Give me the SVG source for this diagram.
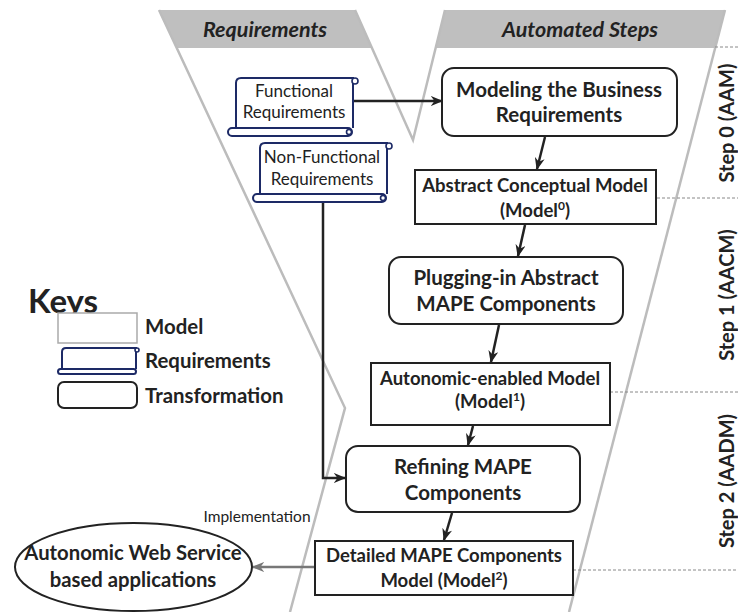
<svg xmlns="http://www.w3.org/2000/svg" width="738" height="612" viewBox="0 0 738 612">
<defs>
<style>
.bg{fill:#ffffff}
.band{fill:#bfbfbf;stroke:none}
.gl{fill:none;stroke:#bcbcbc;stroke-width:2.5;stroke-linejoin:miter}
.hdr{font-family:Lato,"Open Sans",sans-serif;font-weight:bold;font-style:italic;font-size:21.5px;fill:#222;text-anchor:middle}
.t{font-family:Lato,"Open Sans",sans-serif;font-weight:bold;fill:#222;text-anchor:middle}
.r{font-family:Lato,"Open Sans",sans-serif;font-weight:normal;fill:#222;text-anchor:middle}
.k{font-family:Lato,"Open Sans",sans-serif;font-weight:bold;fill:#222}
.box{fill:#fff;stroke:#222;stroke-width:2}
.scroll{fill:#fff;stroke:#1d2a66;stroke-width:2}
.curl{fill:#fff;stroke:#1d2a66;stroke-width:1.6}
.arr{fill:none;stroke:#222;stroke-width:2.5}
.garr{fill:none;stroke:#777;stroke-width:2.5}
.dash{fill:none;stroke:#888;stroke-width:1;stroke-dasharray:3 2}
</style>
<marker id="ah" viewBox="0 0 10 8" refX="9" refY="4" markerWidth="5" markerHeight="4" orient="auto" markerUnits="strokeWidth">
<path d="M0,0 L10,4 L0,8 L3,4 Z" fill="#222"/>
</marker>
<marker id="gah" viewBox="0 0 10 8" refX="9" refY="4" markerWidth="5" markerHeight="4" orient="auto" markerUnits="strokeWidth">
<path d="M0,0 L10,4 L0,8 L3,4 Z" fill="#777"/>
</marker>
</defs>
<rect class="bg" x="0" y="0" width="738" height="612"/>

<g id="background">
<polygon class="band" points="159,10 355,10 372,48 177,48"/>
<polygon class="band" points="445,10 725,10 715,48 435,48"/>
<polyline class="gl" points="159,10 345,408 290,612"/>
<polyline class="gl" points="355,10 413,140 445,10"/>
<line class="gl" x1="725" y1="10" x2="569" y2="612"/>
<text class="hdr" x="265" y="37">Requirements</text>
<text class="hdr" x="580" y="37">Automated Steps</text>
</g>

<g id="step-dividers">
<line class="dash" x1="715" y1="47" x2="738" y2="47"/>
<line class="dash" x1="657" y1="198" x2="738" y2="198"/>
<line class="dash" x1="610" y1="392" x2="738" y2="392"/>
<line class="dash" x1="573" y1="570" x2="738" y2="570"/>
</g>

<g id="step-labels">
<text class="t" font-size="20" transform="translate(734,123) rotate(-90)">Step 0 (AAM)</text>
<text class="t" font-size="20" transform="translate(734,295) rotate(-90)">Step 1 (AACM)</text>
<text class="t" font-size="20" transform="translate(734,481) rotate(-90)">Step 2 (AADM)</text>
</g>

<g id="connectors">
<line class="arr" x1="354" y1="101" x2="442" y2="101" marker-end="url(#ah)"/>
<line class="arr" x1="545" y1="137" x2="537" y2="169" marker-end="url(#ah)"/>
<line class="arr" x1="525" y1="225" x2="518" y2="256" marker-end="url(#ah)"/>
<line class="arr" x1="499" y1="325" x2="491" y2="362" marker-end="url(#ah)"/>
<line class="arr" x1="473" y1="426" x2="468" y2="445" marker-end="url(#ah)"/>
<line class="arr" x1="452" y1="513" x2="444" y2="540" marker-end="url(#ah)"/>
<polyline class="arr" points="323,202 323,478 345,478" marker-end="url(#ah)"/>
<line class="garr" x1="315" y1="567" x2="253" y2="567" marker-end="url(#gah)"/>
<text class="r" font-size="15.5" x="257" y="522">Implementation</text>
</g>

<g id="functional-requirements">
<path class="scroll" d="M236,128 V83 Q236,78 241,78 H353 V128"/>
<circle class="curl" cx="355" cy="81" r="3"/>
<rect class="scroll" x="228" y="128" width="124" height="8" rx="4"/>
<circle class="curl" cx="349" cy="132" r="2.5"/>
<text class="r" font-size="17" x="294" y="97">Functional</text>
<text class="r" font-size="17" x="294" y="118">Requirements</text>
</g>

<g id="non-functional-requirements">
<path class="scroll" d="M260,194 V148 Q260,143 265,143 H387 V194"/>
<circle class="curl" cx="389" cy="146" r="3"/>
<rect class="scroll" x="253" y="194" width="133" height="8" rx="4"/>
<circle class="curl" cx="383" cy="198" r="2.5"/>
<text class="r" font-size="17" x="322" y="163">Non-Functional</text>
<text class="r" font-size="17" x="322" y="185">Requirements</text>
</g>

<g id="modeling-business-requirements">
<rect class="box" x="442" y="68" width="235" height="68" rx="12"/>
<text class="t" font-size="20.5" x="559" y="97">Modeling the Business</text>
<text class="t" font-size="20.5" x="559" y="122">Requirements</text>
</g>

<g id="abstract-conceptual-model">
<rect class="box" x="415" y="170" width="241" height="54"/>
<text class="t" font-size="18.5" x="535" y="192">Abstract Conceptual Model</text>
<text class="t" font-size="18.5" x="535" y="217">(Model<tspan font-size="12" dy="-7">0</tspan><tspan dy="7">)</tspan></text>
</g>

<g id="plugging-in-mape">
<rect class="box" x="389" y="257" width="234" height="67" rx="12"/>
<text class="t" font-size="20.5" x="506" y="285">Plugging-in Abstract</text>
<text class="t" font-size="20.5" x="506" y="311">MAPE Components</text>
</g>

<g id="autonomic-enabled-model">
<rect class="box" x="371" y="363" width="239" height="62"/>
<text class="t" font-size="18.5" x="490" y="385">Autonomic-enabled Model</text>
<text class="t" font-size="18.5" x="490" y="408">(Model<tspan font-size="12" dy="-7">1</tspan><tspan dy="7">)</tspan></text>
</g>

<g id="refining-mape">
<rect class="box" x="346" y="446" width="234" height="66" rx="12"/>
<text class="t" font-size="20.5" x="463" y="474">Refining MAPE</text>
<text class="t" font-size="20.5" x="463" y="500">Components</text>
</g>

<g id="detailed-mape-model">
<rect class="box" x="315" y="541" width="258" height="54"/>
<text class="t" font-size="18.5" x="444" y="562">Detailed MAPE Components</text>
<text class="t" font-size="18.5" x="444" y="587">Model (Model<tspan font-size="12" dy="-7">2</tspan><tspan dy="7">)</tspan></text>
</g>

<g id="autonomic-web-service">
<ellipse class="box" cx="133.5" cy="567" rx="118.5" ry="44"/>
<text class="t" font-size="20.3" x="133" y="560">Autonomic Web Service</text>
<text class="t" font-size="20.3" x="133" y="587">based applications</text>
</g>

<g id="keys">
<text class="k" font-size="33" x="28" y="313">Keys</text>
<rect x="58" y="313" width="79" height="30" fill="#fff" stroke="#aaa" stroke-width="1.5"/>
<text class="k" font-size="20.4" x="145" y="334">Model</text>
<path class="scroll" d="M62,369 V352 Q62,348 66,348 H136 V369"/>
<circle class="curl" cx="137" cy="350" r="2"/>
<rect class="scroll" x="58" y="369" width="78" height="5" rx="2.5"/>
<text class="k" font-size="20.4" x="145" y="368">Requirements</text>
<rect class="box" x="58" y="382" width="79" height="26" rx="6"/>
<text class="k" font-size="20.4" x="145" y="403">Transformation</text>
</g>
</svg>
